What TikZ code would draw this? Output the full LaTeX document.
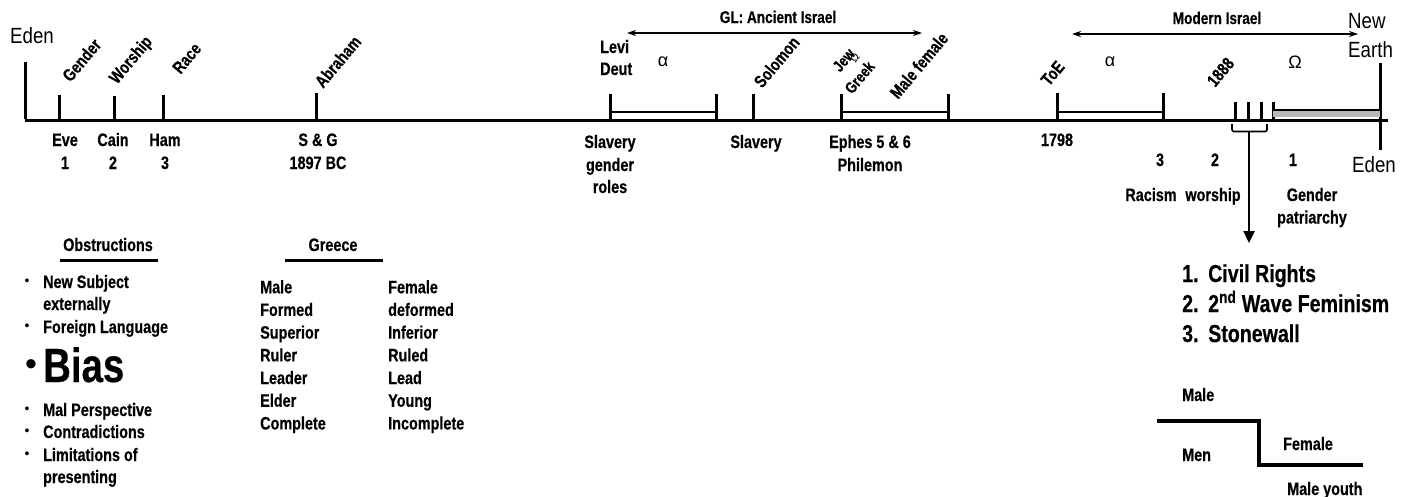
\documentclass[tikz,border=0pt]{standalone}
\usepackage{fontspec}
\setmainfont{Liberation Sans}
\newfontfamily\nb{Liberation Sans Bold}[FakeStretch=0.8, FakeBold=0.4]
\newfontfamily\nr{Liberation Sans}[FakeStretch=0.85]
\usetikzlibrary{arrows.meta}
\begin{document}
\begin{tikzpicture}[x=1pt,y=-1pt,
  lab/.style={font=\nb\fontsize{18}{22.7}\selectfont, inner sep=0pt, anchor=base},
  labl/.style={lab, anchor=base west},
  block/.style={font=\nb\fontsize{18}{22.7}\selectfont, inner sep=0pt, align=left, anchor=north west},
  rot/.style={font=\nb\fontsize{17.5}{20}\selectfont, inner sep=0pt, rotate=50, anchor=base west},
  reg/.style={font=\nr\fontsize{22}{24}\selectfont, inner sep=0pt, anchor=base west},
  greek/.style={font=\fontsize{18}{20}\selectfont, inner sep=0pt},
  axisline/.style={line width=3pt},
  tickline/.style={line width=3pt},
  barline/.style={line width=2.8pt},
  span/.style={line width=1.1pt, {Stealth[length=9pt,width=6pt]}-{Stealth[length=9pt,width=6pt]}},
  big/.style={font=\nb\fontsize{24.5}{30}\selectfont, inner sep=0pt, anchor=base west},
  dot/.style={font=\fontsize{14}{14}\selectfont, inner sep=0pt},
]
\useasboundingbox (0,0) rectangle (1405,496);
% main axis
\coordinate (L) at (25,120);
\coordinate (R) at (1388,120);
\coordinate (L0) at (25,62);
\coordinate (R0) at (1380,63);
\coordinate (R1) at (1380,150);
\draw[axisline] (L) -- (R);
\draw[tickline] (L0) -- ([yshift=1.5pt]L);
\draw[tickline] (R0) -- (R1);
% ticks
\foreach \x/\t in {59/95,114/96,163/95,316/93,610/94,716/94,753/94,841/94,948/94,1057/93,1163/93}
  \draw[tickline] (\x,\t) -- (\x,120);
\foreach \x in {1235,1248,1261,1273}
  \draw[tickline] (\x,102) -- (\x,120);
% bracket bars
\draw[barline] (610,112) -- (716,112);
\draw[barline] (841,112) -- (948,112);
\draw[barline] (1057,112) -- (1163,112);
\fill[gray!55] (1273,110) rectangle (1380,117);
\draw[line width=2pt] (1273,109.5) -- (1380,109.5);
% brace and arrow
\draw[line width=1.6pt, rounded corners=2pt] (1232,124) -- (1232,131.5) -- (1267,131.5) -- (1267,124);
\coordinate (bc) at (1249,131.5);
\coordinate (bt) at (1249,243);
\draw[line width=2.5pt, -{Triangle[length=12pt,width=11pt]}] (bc) -- (bt);
% span arrows
\coordinate (g1) at (627,33); \coordinate (g2) at (922,33);
\draw[span] (g1) -- (g2);
\coordinate (m1) at (1072,34); \coordinate (m2) at (1358,34);
\draw[span] (m1) -- (m2);
\node[lab, font=\nb\fontsize{17}{20}\selectfont] (gl) at (778,23) {GL: Ancient Israel};
\node[lab, font=\nb\fontsize{17}{20}\selectfont] (mi) at (1217,24) {Modern Israel};
% Eden / New Earth
\node[reg] (edenL) at (10,43) {Eden};
\node[reg] (ne1) at (1348,28) {New};
\node[reg] (ne2) at (1348,57) {Earth};
\node[reg] (edenR) at (1352,172) {Eden};
% rotated labels
\node[rot] (gender) at (70.5,83) {Gender};
\node[rot] (worship) at (117,85) {Worship};
\node[rot] (race) at (180.5,75) {Race};
\node[rot] (abraham) at (323,89) {Abraham};
\node[rot] (solomon) at (762,89) {Solomon};
\node[rot, font=\nb\fontsize{16}{18}\selectfont] (jew) at (840,73) {Jew};
\node[rot, font=\fontsize{11}{12}\selectfont] (jg) at (855,64) {Ω};
\node[rot, font=\nb\fontsize{16}{18}\selectfont] (greek) at (852,95) {Greek};
\node[rot] (mf) at (898,100) {Male female};
\node[rot] (toe) at (1049,87) {ToE};
\node[rot] (y1888) at (1215,88) {1888};
% upper labels
\node[labl] (levi) at (600,53) {Levi};
\node[labl] (deut) at (600,75) {Deut};
\node[greek] (a1) at (663,62) {α};
\node[greek] (a2) at (1110,62) {α};
\node[greek] (om) at (1295,62) {Ω};
% lower labels
\node[lab] (eve) at (65,146) {Eve};
\node[lab] (eve1) at (65,169) {1};
\node[lab] (cain) at (113,146) {Cain};
\node[lab] (cain2) at (113,169) {2};
\node[lab] (ham) at (165,146) {Ham};
\node[lab] (ham3) at (165,169) {3};
\node[lab] (sg) at (318,146) {S \& G};
\node[lab] (bc1897) at (318,169) {1897 BC};
\node[lab] (slav1) at (610,148) {Slavery};
\node[lab] (slav1b) at (610,171) {gender};
\node[lab] (slav1c) at (610,193) {roles};
\node[lab] (slav2) at (756,148) {Slavery};
\node[lab] (ephes) at (870,148) {Ephes 5 \& 6};
\node[lab] (phil) at (870,171) {Philemon};
\node[lab] (y1798) at (1057,146) {1798};
\node[lab] (n3) at (1160,166) {3};
\node[lab] (n2) at (1215,166) {2};
\node[lab] (n1) at (1293,166) {1};
\node[lab] (racism) at (1151,201) {Racism};
\node[lab] (wsh) at (1213,201) {worship};
\node[lab] (gp1) at (1312,201) {Gender};
\node[lab] (gp2) at (1312,223.5) {patriarchy};
% Obstructions
\node[lab] (obs) at (108,251) {Obstructions};
\draw[line width=3pt] (60,260) -- (158,260);
\foreach \y in {282,327,410,432,455}
  \node[dot] at (27,\y) {•};
\node[labl] (o1) at (43,288) {New Subject};
\node[labl] (o1b) at (43,310) {externally};
\node[labl] (o2) at (43,333) {Foreign Language};
\node[font=\fontsize{34}{34}\selectfont, inner sep=0pt] (bb) at (31,368) {•};
\node[labl, font=\nb\fontsize{48}{50}\selectfont] (bias) at (43,382) {Bias};
\node[labl] (o3) at (43,416) {Mal Perspective};
\node[labl] (o4) at (43,438) {Contradictions};
\node[labl] (o5) at (43,461) {Limitations of};
\node[labl] (o5b) at (43,483) {presenting};
% Greece
\node[lab] (gr) at (333,251) {Greece};
\draw[line width=3pt] (285,260) -- (383,260);
\node[block] (gc1) at (260,280) {Male\\Formed\\Superior\\Ruler\\Leader\\Elder\\Complete};
\node[block] (gc2) at (388,280) {Female\\deformed\\Inferior\\Ruled\\Lead\\Young\\Incomplete};
% list
\node[big] (e1) at (1182,282) {1.};
\node[big] (e2) at (1182,312) {2.};
\node[big] (e3) at (1182,342) {3.};
\node[big] (t1) at (1208,282) {Civil Rights};
\node[big] (t2) at (1208,312) {2\textsuperscript{nd} Wave Feminism};
\node[big] (t3) at (1208,342) {Stonewall};
% step
\node[labl] (male) at (1182,401) {Male};
\node[labl] (men) at (1182,461) {Men};
\node[labl] (fem) at (1283,450) {Female};
\node[labl] (my) at (1287,495) {Male youth};
\coordinate (s1) at (1157,421);
\coordinate (s2) at (1259,421);
\coordinate (s3) at (1259,465);
\coordinate (s4) at (1363,465);
\draw[line width=3.5pt] (s1) -- (s2) -- (s3) -- (s4);
\end{tikzpicture}
\end{document}
